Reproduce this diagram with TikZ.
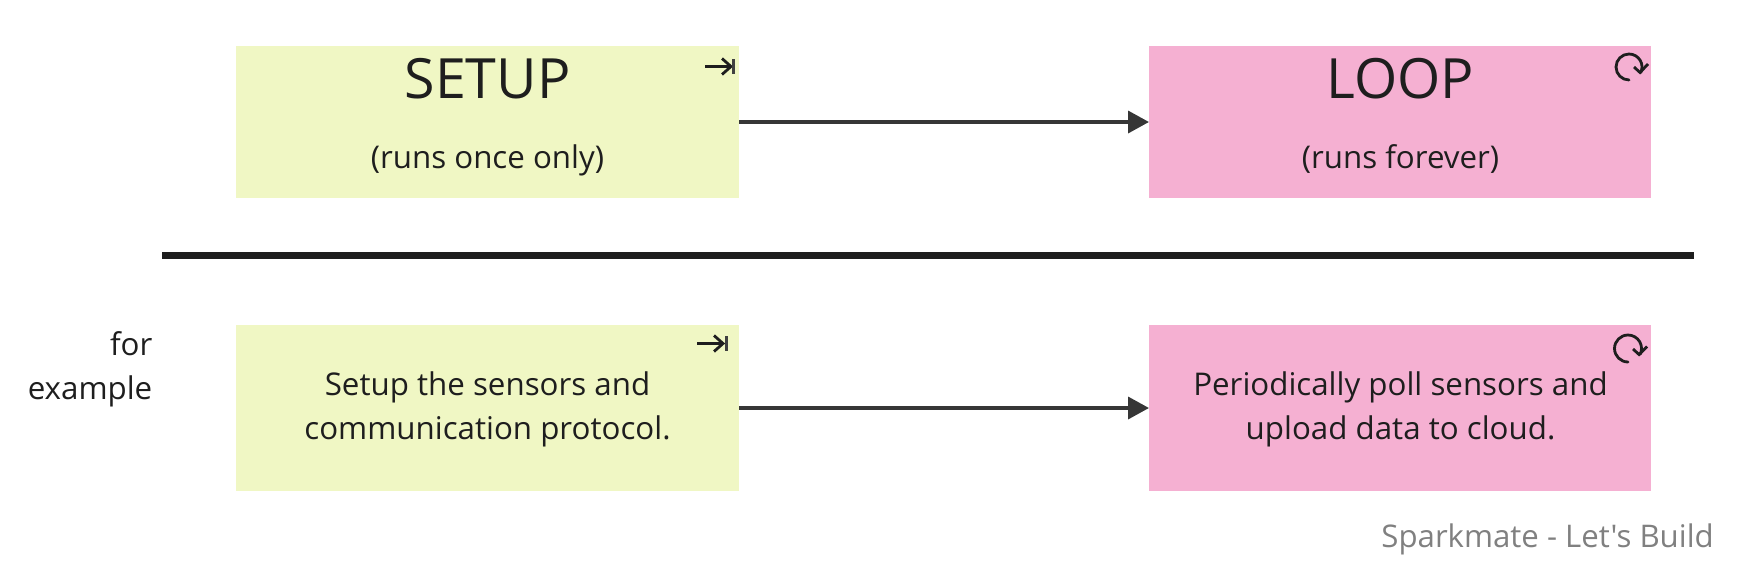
\documentclass[tikz,border=0pt]{standalone}
\usepackage{fontspec}
\setmainfont{Open Sans}
\newfontfamily\plainsans{Open Sans}
\usetikzlibrary{arrows.meta}
\definecolor{setupc}{HTML}{F0F7C4}
\definecolor{loopc}{HTML}{F5B0D2}
\definecolor{inkc}{HTML}{1E1E1E}
\definecolor{linec}{HTML}{363636}
\tikzset{
 x=1pt,y=-1pt,
 box/.style={inner sep=0pt,outer sep=0pt,minimum width=503pt,anchor=north west,text=inkc},
 setupbox/.style={box,fill=setupc},
 loopbox/.style={box,fill=loopc,minimum width=502pt},
 txt/.style={text=inkc,font=\fontsize{31.3}{43.8}\selectfont,align=center,inner sep=0pt},
 big/.style={text=inkc,font=\fontsize{55.5}{60}\selectfont,inner sep=0pt},
 flow/.style={draw=linec,line width=3.6pt,-{Triangle[length=21pt,width=22pt]},shorten >=0pt},
 glyph/.style={draw=inkc,line width=2.8pt},
}
\begin{document}
\begin{tikzpicture}
\useasboundingbox (0,0) rectangle (1739,574);
\node[setupbox,minimum height=152pt] (s1) at (236,46) {};
\node[loopbox,minimum height=152pt] (l1) at (1149,46) {};
\node[setupbox,minimum height=166pt] (s2) at (236,325) {};
\node[loopbox,minimum height=166pt] (l2) at (1149,325) {};
\draw[flow] (s1.east) -- (l1.west);
\draw[flow] (s2.east) -- (l2.west);
\node[big] (t1) at (487.5,79) {SETUP};
\node[big] (t2) at (1400.5,79) {LOOP};
\node[txt,anchor=base] (t3) at (487.5,168) {(runs once only)};
\node[txt,anchor=base] (t4) at (1400.5,168) {(runs forever)};
\node[txt] (t5) at (487.5,409) {Setup the sensors and\\communication protocol.};
\node[txt] (t6) at (1400.5,409) {Periodically poll sensors and\\upload data to cloud.};
\node[txt,align=right,anchor=east] (t7) at (152.5,369) {for\\example};
\node[font=\fontsize{31.2}{36}\selectfont\plainsans,text=black!50,anchor=base east,inner sep=0pt] (t8) at (1714,547) {Sparkmate - Let's Build};
\coordinate (ra) at (162,255.3);
\coordinate (rb) at (1694,255.3);
\draw[draw=inkc,line width=7.2pt] (ra) -- (rb);
% icons
\draw[glyph] (705,66.5) -- (731,66.5);
\draw[glyph] (722,58.5) -- (731,66.5) -- (722,74.5);
\draw[draw=inkc!85,line width=3pt] (733.5,59) -- (733.5,74);
\draw[glyph] (697,343.5) -- (723,343.5);
\draw[glyph] (714,335.5) -- (723,343.5) -- (714,351.5);
\draw[draw=inkc!85,line width=3pt] (726,336) -- (726,351);
\draw[glyph,line cap=round] (1629,80) arc[start angle=270,end angle=-25,radius=13pt];
\draw[glyph] (1634,67) -- (1640,72.5) -- (1648,64);
\draw[glyph,line cap=round] (1628,362) arc[start angle=270,end angle=-25,radius=13.5pt];
\draw[glyph] (1633,349) -- (1639,354.5) -- (1647,346.5);
\end{tikzpicture}
\end{document}
